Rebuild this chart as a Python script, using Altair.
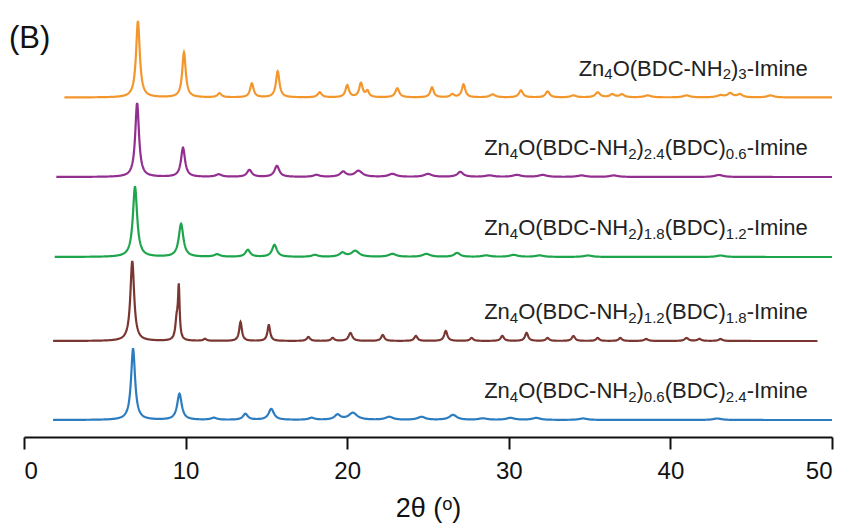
import altair as alt
import numpy as np
import pandas as pd

# ---- data ----
# label pieces: (text, is_subscript)
series_pieces = [
    [("Zn", 0), ("4", 1), ("O(BDC-NH", 0), ("2", 1), (")", 0), ("3", 1), ("-Imine", 0)],
    [("Zn", 0), ("4", 1), ("O(BDC-NH", 0), ("2", 1), (")", 0), ("2.4", 1), ("(BDC)", 0), ("0.6", 1), ("-Imine", 0)],
    [("Zn", 0), ("4", 1), ("O(BDC-NH", 0), ("2", 1), (")", 0), ("1.8", 1), ("(BDC)", 0), ("1.2", 1), ("-Imine", 0)],
    [("Zn", 0), ("4", 1), ("O(BDC-NH", 0), ("2", 1), (")", 0), ("1.2", 1), ("(BDC)", 0), ("1.8", 1), ("-Imine", 0)],
    [("Zn", 0), ("4", 1), ("O(BDC-NH", 0), ("2", 1), (")", 0), ("0.6", 1), ("(BDC)", 0), ("2.4", 1), ("-Imine", 0)],
]
series_names = ["".join(t for t, _ in p) for p in series_pieces]
series_colors = ["#f3962c", "#922f90", "#1ea54c", "#7a3631", "#2c7cc0"]
offsets = [339.5, 260, 180, 96, 17]
x_start = [2.5, 2.0, 1.9, 1.8, 1.8]
x_end = [50.0, 50.0, 50.0, 49.1, 50.0]

orange_pos = [7.05, 9.9, 12.1, 14.1, 15.7, 18.3, 20.0, 20.85, 21.25, 23.1, 25.25, 26.5, 27.2, 29.0, 30.75, 32.4, 34.0, 35.5, 36.4, 37.0, 38.6, 41.0, 43.1, 43.7, 44.3, 46.2]
orange_h = [76, 45, 4, 14, 26, 5, 12, 14, 6, 9, 10, 3, 13, 3, 7, 6, 2, 5, 3, 3, 2, 2, 2, 4, 3, 2]
orange_w = [0.14, 0.13, 0.15, 0.13, 0.13, 0.15, 0.13, 0.13, 0.12, 0.15, 0.13, 0.15, 0.13, 0.2, 0.15, 0.15, 0.2, 0.18, 0.18, 0.18, 0.25, 0.25, 0.25, 0.2, 0.2, 0.25]

purple_pos = [7.0, 9.84, 12.05, 13.95, 15.65, 18.1, 19.75, 20.7, 22.8, 25.0, 27.0, 28.8, 30.5, 32.1, 34.5, 36.5, 43.0]
purple_h = [74, 29, 2.5, 7, 11, 2, 5, 6, 3, 3, 5, 1.5, 2, 2, 1.5, 1.5, 2]
purple_w = [0.14, 0.15, 0.22, 0.18, 0.18, 0.22, 0.22, 0.28, 0.28, 0.28, 0.22, 0.3, 0.3, 0.3, 0.3, 0.3, 0.3]

green_pos = [6.87, 9.72, 11.95, 13.85, 15.5, 18.0, 19.7, 20.5, 22.8, 24.9, 26.8, 28.6, 30.3, 31.9, 34.9, 43.1]
green_h = [70, 33, 2.5, 7, 12, 2, 4, 6, 3, 3, 4, 1.5, 2, 1.5, 1.5, 1.5]
green_w = [0.16, 0.17, 0.22, 0.18, 0.18, 0.22, 0.22, 0.28, 0.28, 0.28, 0.22, 0.3, 0.3, 0.3, 0.3, 0.3]

brown_pos = [6.7, 9.45, 9.58, 11.2, 13.4, 15.15, 17.6, 19.1, 20.2, 22.2, 24.25, 26.1, 27.7, 29.6, 31.1, 32.4, 34.0, 35.5, 36.9, 38.5, 41.0, 41.8, 43.1]
brown_h = [80, 20, 50, 2, 19, 16, 4, 3, 8, 6, 5, 10, 3, 5, 8, 3, 5, 3, 3, 2, 3, 2, 2]
brown_w = [0.14, 0.1, 0.06, 0.12, 0.1, 0.1, 0.12, 0.12, 0.14, 0.12, 0.12, 0.12, 0.12, 0.12, 0.12, 0.12, 0.12, 0.12, 0.12, 0.14, 0.14, 0.14, 0.14]

blue_pos = [6.75, 9.62, 11.75, 13.7, 15.3, 17.8, 19.4, 20.35, 22.6, 24.6, 26.55, 28.4, 30.1, 31.7, 34.6, 42.9]
blue_h = [71, 26, 2, 6, 11, 2, 5, 7, 3, 3, 5, 1.5, 2, 2, 1.5, 1.5]
blue_w = [0.15, 0.17, 0.22, 0.18, 0.2, 0.22, 0.22, 0.32, 0.28, 0.28, 0.28, 0.3, 0.3, 0.3, 0.3, 0.3]

x_ticks = [0, 10, 20, 30, 40, 50]

peaks = [
    (orange_pos, orange_h, orange_w),
    (purple_pos, purple_h, purple_w),
    (green_pos, green_h, green_w),
    (brown_pos, brown_h, brown_w),
    (blue_pos, blue_h, blue_w),
]

# ---- build line profiles from the read peak list (position, height, half-width) ----
rows = []
for name, off, xs, xe, (pp, hh, ww) in zip(series_names, offsets, x_start, x_end, peaks):
    grid = np.arange(xs, xe + 1e-9, 0.02)
    prof = np.zeros_like(grid)
    for p, h, w in zip(pp, hh, ww):
        prof += h * w * w / ((grid - p) ** 2 + w * w)
    for gx, gy in zip(grid, prof):
        rows.append({"x": float(gx), "y": float(off + gy), "series": name})
df = pd.DataFrame(rows)

# ---- label layout with subscripts (Arial / Liberation Sans advance widths, 1/1000 em) ----
ADV = {"Z": 611, "n": 556, "O": 778, "(": 333, ")": 333, "B": 667, "D": 722, "C": 722,
       "-": 333, "N": 722, "H": 722, "I": 278, "m": 833, "i": 222, "e": 556, ".": 278}
MAIN_FS = 22
SUB_FS = 15
PX_PER_UNIT = 808 / 50.0
LABEL_RIGHT = 48.5


def seg_width(t, fs):
    return sum(ADV.get(c, 556) for c in t) * fs / 1000.0


main_rows, sub_rows = [], []
for pieces, off in zip(series_pieces, offsets):
    after = 0.0
    for t, sub in reversed(pieces):
        fs = SUB_FS if sub else MAIN_FS
        row = {"x": LABEL_RIGHT - after / PX_PER_UNIT,
               "y": off + 22 - (3.5 if sub else 0), "text": t}
        (sub_rows if sub else main_rows).append(row)
        after += seg_width(t, fs)
main_df = pd.DataFrame(main_rows)
sub_df = pd.DataFrame(sub_rows)

xscale = alt.Scale(domain=[0, 50], nice=False, zero=False)
yscale = alt.Scale(domain=[0, 429], nice=False, zero=False)

lines = alt.Chart(df).mark_line(strokeWidth=2.2, interpolate="linear").encode(
    x=alt.X("x:Q", scale=xscale,
            axis=alt.Axis(values=x_ticks, title="2θ (ᵒ)", format="d")),
    y=alt.Y("y:Q", scale=yscale, axis=None),
    color=alt.Color("series:N", scale=alt.Scale(domain=series_names, range=series_colors), legend=None),
    detail="series:N",
)

main_text = alt.Chart(main_df).mark_text(
    align="right", baseline="alphabetic", fontSize=MAIN_FS, font="Liberation Sans", color="#222222"
).encode(
    x=alt.X("x:Q", scale=xscale),
    y=alt.Y("y:Q", scale=yscale),
    text="text:N",
)

sub_text = alt.Chart(sub_df).mark_text(
    align="right", baseline="alphabetic", fontSize=SUB_FS, font="Liberation Sans", color="#222222"
).encode(
    x=alt.X("x:Q", scale=xscale),
    y=alt.Y("y:Q", scale=yscale),
    text="text:N",
)

panel = alt.Chart(pd.DataFrame({"t": ["(B)"]})).mark_text(
    align="left", baseline="middle", fontSize=31, font="Liberation Sans", color="#111111"
).encode(
    x=alt.value(-15), y=alt.value(31), text="t:N"
)

chart = alt.layer(lines, main_text, sub_text, panel).properties(
    width=808, height=429,
    autosize=alt.AutoSizeParams(type="none"),
    padding={"left": 16, "top": 0, "right": 17, "bottom": 91},
).configure_view(stroke=None).configure_axis(
    domainColor="#111111", domainWidth=2, tickColor="#111111", tickWidth=2, tickSize=12,
    labelFont="Liberation Sans", labelFontSize=24, labelColor="#111111", labelPadding=10,
    titleFont="Liberation Sans", titleFontSize=27, titleFontWeight="normal", titleColor="#111111",
    titlePadding=12, grid=False,
)

chart.save("out.html", embed_options={"renderer": "svg", "actions": False})
